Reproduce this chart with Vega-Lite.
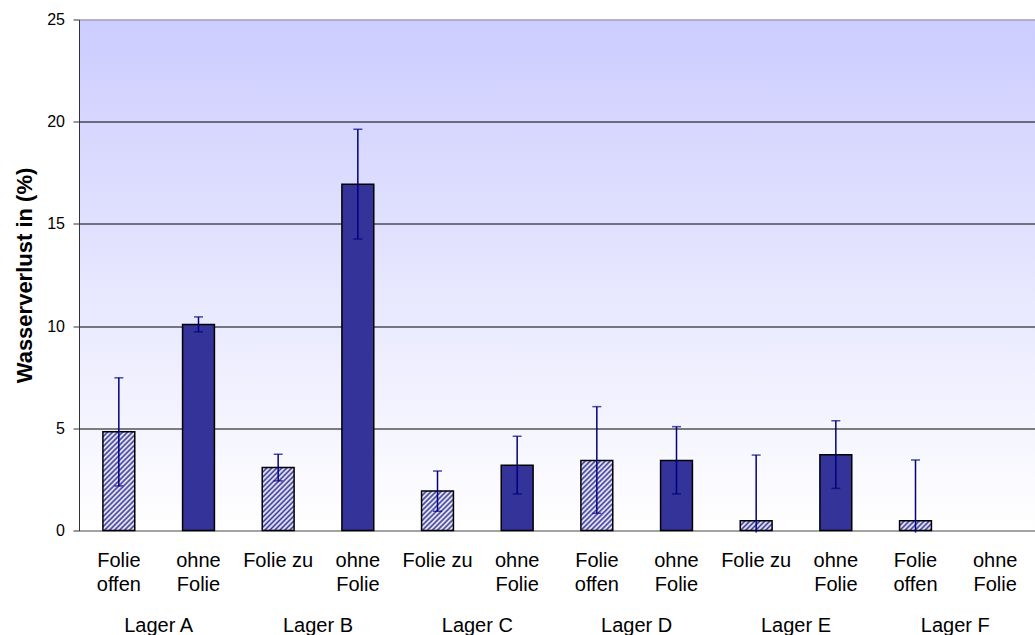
{
  "$schema": "https://vega.github.io/schema/vega-lite/v6.json",
  "width": 956,
  "height": 511,
  "autosize": {"type": "none"},
  "padding": {"left": 79, "top": 19.5, "right": 0, "bottom": 104.5},
  "view": {
    "stroke": null,
    "fill": {"gradient": "linear", "x1": 0, "y1": 0, "x2": 0, "y2": 1, "stops": [{"offset": 0, "color": "#ccccff"}, {"offset": 1, "color": "#ffffff"}]}
  },
  "config": {"font": "Liberation Sans"},
  "data": {
    "values": [
      {"key": "A|Folie|offen", "lager": "Lager A", "val": 4.83, "lo": 2.18, "hi": 7.47},
      {"key": "A|ohne|Folie", "lager": "Lager A", "val": 10.08, "lo": 9.72, "hi": 10.45},
      {"key": "B|Folie zu", "lager": "Lager B", "val": 3.08, "lo": 2.43, "hi": 3.73},
      {"key": "B|ohne|Folie", "lager": "Lager B", "val": 16.94, "lo": 14.26, "hi": 19.63},
      {"key": "C|Folie zu", "lager": "Lager C", "val": 1.93, "lo": 0.94, "hi": 2.91},
      {"key": "C|ohne|Folie", "lager": "Lager C", "val": 3.19, "lo": 1.79, "hi": 4.61},
      {"key": "D|Folie|offen", "lager": "Lager D", "val": 3.43, "lo": 0.84, "hi": 6.06},
      {"key": "D|ohne|Folie", "lager": "Lager D", "val": 3.43, "lo": 1.79, "hi": 5.08},
      {"key": "E|Folie zu", "lager": "Lager E", "val": 0.48, "lo": -0.1, "hi": 3.69},
      {"key": "E|ohne|Folie", "lager": "Lager E", "val": 3.71, "lo": 2.06, "hi": 5.37},
      {"key": "F|Folie|offen", "lager": "Lager F", "val": 0.48, "lo": -0.1, "hi": 3.45},
      {"key": "F|ohne|Folie", "lager": "Lager F", "val": null, "lo": null, "hi": null}
    ]
  },
  "layer": [
    {
      "layer": [
        {
          "mark": {"type": "bar", "stroke": "black", "strokeWidth": 1.5},
          "encoding": {
            "x": {
              "field": "key", "type": "nominal",
              "scale": {"domain": ["A|Folie|offen", "A|ohne|Folie", "B|Folie zu", "B|ohne|Folie", "C|Folie zu", "C|ohne|Folie", "D|Folie|offen", "D|ohne|Folie", "E|Folie zu", "E|ohne|Folie", "F|Folie|offen", "F|ohne|Folie"], "paddingInner": 0.6, "paddingOuter": 0.3},
              "axis": {"title": null, "labelExpr": "slice(split(datum.value, '|'), 1)", "labelFontSize": 20, "labelColor": "black", "labelBaseline": "top", "labelLineHeight": 23.3, "labelPadding": 20.4, "ticks": false, "tickSize": 0, "domainColor": "#999999", "domainWidth": 1.5, "labelAngle": 0, "labelOverlap": false, "grid": false}
            },
            "y": {
              "field": "val", "type": "quantitative",
              "scale": {"domain": [0, 25], "nice": false, "zero": true},
              "axis": {"values": [0, 5, 10, 15, 20, 25], "title": "Wasserverlust in (%)", "titleFontSize": 22, "titleFontWeight": "bold", "titleColor": "black", "titleX": -48, "titleY": 255.5, "titleAngle": -90, "titleBaseline": "alphabetic", "titleAlign": "center", "labelFontSize": 16, "labelColor": "black", "labelPadding": 8.5, "tickSize": 6, "tickColor": "#333333", "domainColor": "#333333", "grid": true, "gridColor": {"condition": {"test": "datum.value == 0 || datum.value == 25", "value": "#888888"}, "value": "black"}, "gridWidth": 1}
            },
            "fill": {
              "condition": [
                {"test": "datum.key == 'A|Folie|offen'", "value": {"gradient": "linear", "x1": 0, "y1": 0, "x2": 0.4447, "y2": 1.376, "stops": [{"offset":0,"color":"#333399"},{"offset":0.0167,"color":"#fff"},{"offset":0.0333,"color":"#333399"},{"offset":0.05,"color":"#fff"},{"offset":0.0667,"color":"#333399"},{"offset":0.0833,"color":"#fff"},{"offset":0.1,"color":"#333399"},{"offset":0.1167,"color":"#fff"},{"offset":0.1333,"color":"#333399"},{"offset":0.15,"color":"#fff"},{"offset":0.1667,"color":"#333399"},{"offset":0.1833,"color":"#fff"},{"offset":0.2,"color":"#333399"},{"offset":0.2167,"color":"#fff"},{"offset":0.2333,"color":"#333399"},{"offset":0.25,"color":"#fff"},{"offset":0.2667,"color":"#333399"},{"offset":0.2833,"color":"#fff"},{"offset":0.3,"color":"#333399"},{"offset":0.3167,"color":"#fff"},{"offset":0.3333,"color":"#333399"},{"offset":0.35,"color":"#fff"},{"offset":0.3667,"color":"#333399"},{"offset":0.3833,"color":"#fff"},{"offset":0.4,"color":"#333399"},{"offset":0.4167,"color":"#fff"},{"offset":0.4333,"color":"#333399"},{"offset":0.45,"color":"#fff"},{"offset":0.4667,"color":"#333399"},{"offset":0.4833,"color":"#fff"},{"offset":0.5,"color":"#333399"},{"offset":0.5167,"color":"#fff"},{"offset":0.5333,"color":"#333399"},{"offset":0.55,"color":"#fff"},{"offset":0.5667,"color":"#333399"},{"offset":0.5833,"color":"#fff"},{"offset":0.6,"color":"#333399"},{"offset":0.6167,"color":"#fff"},{"offset":0.6333,"color":"#333399"},{"offset":0.65,"color":"#fff"},{"offset":0.6667,"color":"#333399"},{"offset":0.6833,"color":"#fff"},{"offset":0.7,"color":"#333399"},{"offset":0.7167,"color":"#fff"},{"offset":0.7333,"color":"#333399"},{"offset":0.75,"color":"#fff"},{"offset":0.7667,"color":"#333399"},{"offset":0.7833,"color":"#fff"},{"offset":0.8,"color":"#333399"},{"offset":0.8167,"color":"#fff"},{"offset":0.8333,"color":"#333399"},{"offset":0.85,"color":"#fff"},{"offset":0.8667,"color":"#333399"},{"offset":0.8833,"color":"#fff"},{"offset":0.9,"color":"#333399"}]}},
                {"test": "datum.key == 'B|Folie zu'", "value": {"gradient": "linear", "x1": 0, "y1": 0, "x2": 0.9644, "y2": 1.8987, "stops": [{"offset":0,"color":"#333399"},{"offset":0.0167,"color":"#fff"},{"offset":0.0333,"color":"#333399"},{"offset":0.05,"color":"#fff"},{"offset":0.0667,"color":"#333399"},{"offset":0.0833,"color":"#fff"},{"offset":0.1,"color":"#333399"},{"offset":0.1167,"color":"#fff"},{"offset":0.1333,"color":"#333399"},{"offset":0.15,"color":"#fff"},{"offset":0.1667,"color":"#333399"},{"offset":0.1833,"color":"#fff"},{"offset":0.2,"color":"#333399"},{"offset":0.2167,"color":"#fff"},{"offset":0.2333,"color":"#333399"},{"offset":0.25,"color":"#fff"},{"offset":0.2667,"color":"#333399"},{"offset":0.2833,"color":"#fff"},{"offset":0.3,"color":"#333399"},{"offset":0.3167,"color":"#fff"},{"offset":0.3333,"color":"#333399"},{"offset":0.35,"color":"#fff"},{"offset":0.3667,"color":"#333399"},{"offset":0.3833,"color":"#fff"},{"offset":0.4,"color":"#333399"},{"offset":0.4167,"color":"#fff"},{"offset":0.4333,"color":"#333399"},{"offset":0.45,"color":"#fff"},{"offset":0.4667,"color":"#333399"},{"offset":0.4833,"color":"#fff"},{"offset":0.5,"color":"#333399"},{"offset":0.5167,"color":"#fff"},{"offset":0.5333,"color":"#333399"},{"offset":0.55,"color":"#fff"},{"offset":0.5667,"color":"#333399"},{"offset":0.5833,"color":"#fff"},{"offset":0.6,"color":"#333399"},{"offset":0.6167,"color":"#fff"},{"offset":0.6333,"color":"#333399"},{"offset":0.65,"color":"#fff"}]}},
                {"test": "datum.key == 'C|Folie zu'", "value": {"gradient": "linear", "x1": 0, "y1": 0, "x2": 1.8619, "y2": 2.2996, "stops": [{"offset":0,"color":"#333399"},{"offset":0.0167,"color":"#fff"},{"offset":0.0333,"color":"#333399"},{"offset":0.05,"color":"#fff"},{"offset":0.0667,"color":"#333399"},{"offset":0.0833,"color":"#fff"},{"offset":0.1,"color":"#333399"},{"offset":0.1167,"color":"#fff"},{"offset":0.1333,"color":"#333399"},{"offset":0.15,"color":"#fff"},{"offset":0.1667,"color":"#333399"},{"offset":0.1833,"color":"#fff"},{"offset":0.2,"color":"#333399"},{"offset":0.2167,"color":"#fff"},{"offset":0.2333,"color":"#333399"},{"offset":0.25,"color":"#fff"},{"offset":0.2667,"color":"#333399"},{"offset":0.2833,"color":"#fff"},{"offset":0.3,"color":"#333399"},{"offset":0.3167,"color":"#fff"},{"offset":0.3333,"color":"#333399"},{"offset":0.35,"color":"#fff"},{"offset":0.3667,"color":"#333399"},{"offset":0.3833,"color":"#fff"},{"offset":0.4,"color":"#333399"},{"offset":0.4167,"color":"#fff"},{"offset":0.4333,"color":"#333399"},{"offset":0.45,"color":"#fff"},{"offset":0.4667,"color":"#333399"},{"offset":0.4833,"color":"#fff"},{"offset":0.5,"color":"#333399"}]}},
                {"test": "datum.key == 'D|Folie|offen'", "value": {"gradient": "linear", "x1": 0, "y1": 0, "x2": 0.8067, "y2": 1.7727, "stops": [{"offset":0,"color":"#333399"},{"offset":0.0167,"color":"#fff"},{"offset":0.0333,"color":"#333399"},{"offset":0.05,"color":"#fff"},{"offset":0.0667,"color":"#333399"},{"offset":0.0833,"color":"#fff"},{"offset":0.1,"color":"#333399"},{"offset":0.1167,"color":"#fff"},{"offset":0.1333,"color":"#333399"},{"offset":0.15,"color":"#fff"},{"offset":0.1667,"color":"#333399"},{"offset":0.1833,"color":"#fff"},{"offset":0.2,"color":"#333399"},{"offset":0.2167,"color":"#fff"},{"offset":0.2333,"color":"#333399"},{"offset":0.25,"color":"#fff"},{"offset":0.2667,"color":"#333399"},{"offset":0.2833,"color":"#fff"},{"offset":0.3,"color":"#333399"},{"offset":0.3167,"color":"#fff"},{"offset":0.3333,"color":"#333399"},{"offset":0.35,"color":"#fff"},{"offset":0.3667,"color":"#333399"},{"offset":0.3833,"color":"#fff"},{"offset":0.4,"color":"#333399"},{"offset":0.4167,"color":"#fff"},{"offset":0.4333,"color":"#333399"},{"offset":0.45,"color":"#fff"},{"offset":0.4667,"color":"#333399"},{"offset":0.4833,"color":"#fff"},{"offset":0.5,"color":"#333399"},{"offset":0.5167,"color":"#fff"},{"offset":0.5333,"color":"#333399"},{"offset":0.55,"color":"#fff"},{"offset":0.5667,"color":"#333399"},{"offset":0.5833,"color":"#fff"},{"offset":0.6,"color":"#333399"},{"offset":0.6167,"color":"#fff"},{"offset":0.6333,"color":"#333399"},{"offset":0.65,"color":"#fff"},{"offset":0.6667,"color":"#333399"},{"offset":0.6833,"color":"#fff"},{"offset":0.7,"color":"#333399"}]}},
                {"test": "datum.key == 'E|Folie zu' || datum.key == 'F|Folie|offen'", "value": {"gradient": "linear", "x1": 0, "y1": 0, "x2": 4.2969, "y2": 1.32, "stops": [{"offset":0,"color":"#333399"},{"offset":0.0167,"color":"#fff"},{"offset":0.0333,"color":"#333399"},{"offset":0.05,"color":"#fff"},{"offset":0.0667,"color":"#333399"},{"offset":0.0833,"color":"#fff"},{"offset":0.1,"color":"#333399"},{"offset":0.1167,"color":"#fff"},{"offset":0.1333,"color":"#333399"},{"offset":0.15,"color":"#fff"},{"offset":0.1667,"color":"#333399"},{"offset":0.1833,"color":"#fff"},{"offset":0.2,"color":"#333399"},{"offset":0.2167,"color":"#fff"},{"offset":0.2333,"color":"#333399"},{"offset":0.25,"color":"#fff"},{"offset":0.2667,"color":"#333399"},{"offset":0.2833,"color":"#fff"},{"offset":0.3,"color":"#333399"}]}}
              ],
              "value": "#333399"
            }
          }
        },
        {
          "mark": {"type": "rule", "color": "#000080", "strokeWidth": 1.5},
          "encoding": {
            "x": {"field": "key", "type": "nominal"},
            "y": {"field": "lo", "type": "quantitative"},
            "y2": {"field": "hi"}
          }
        },
        {
          "mark": {"type": "tick", "color": "#000080", "thickness": 1.5, "size": 9},
          "encoding": {
            "x": {"field": "key", "type": "nominal"},
            "y": {"field": "hi", "type": "quantitative"}
          }
        },
        {
          "transform": [{"filter": "datum.lo >= 0"}],
          "mark": {"type": "tick", "color": "#000080", "thickness": 1.5, "size": 9},
          "encoding": {
            "x": {"field": "key", "type": "nominal"},
            "y": {"field": "lo", "type": "quantitative"}
          }
        }
      ]
    },
    {
      "mark": {"type": "point", "opacity": 0},
      "encoding": {
        "x": {
          "field": "lager", "type": "nominal",
          "scale": {"type": "band", "domain": ["Lager A", "Lager B", "Lager C", "Lager D", "Lager E", "Lager F"], "paddingInner": 0, "paddingOuter": 0},
          "axis": {"orient": "bottom", "title": null, "labelFontSize": 20, "labelColor": "black", "labelBaseline": "top", "labelPadding": 85.4, "ticks": false, "tickSize": 0, "domain": false, "labelAngle": 0, "labelOverlap": false, "grid": false}
        }
      }
    }
  ],
  "resolve": {"scale": {"x": "independent"}}
}
